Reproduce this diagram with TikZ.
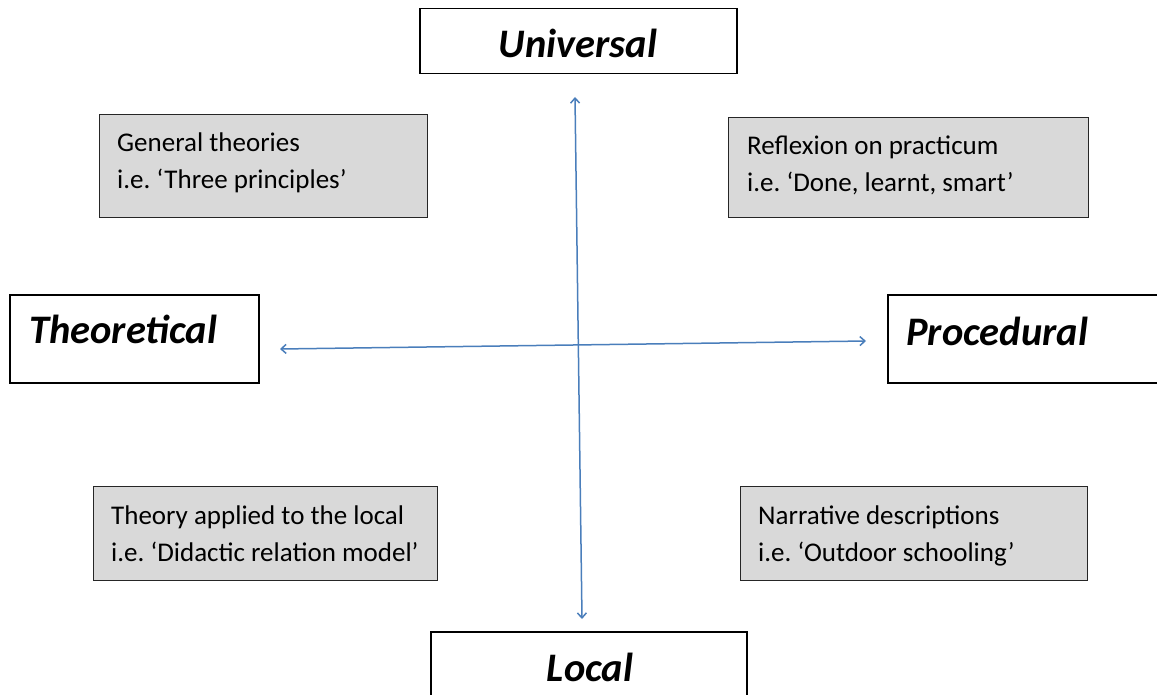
\documentclass[tikz,border=0pt]{standalone}
\usepackage{fontspec}
\setmainfont{Carlito}
\usetikzlibrary{arrows.meta}
\definecolor{axisblue}{HTML}{4A7EBB}
\definecolor{boxgray}{HTML}{D9D9D9}
\frenchspacing
\begin{document}
\begin{tikzpicture}[x=1bp,y=-1bp,
  headbox/.style={draw=black,line width=1.5bp,fill=white,anchor=north west,inner sep=0pt},
  graybox/.style={draw=black!85,line width=1.3bp,fill=boxgray,anchor=north west,inner sep=0pt},
  headtext/.style={font=\fontsize{40.5bp}{48bp}\selectfont\bfseries\itshape,inner sep=0pt},
  smalltext/.style={font=\fontsize{27bp}{32bp}\selectfont,inner sep=0pt,anchor=base west},
  axis/.style={draw=axisblue,line width=1.5bp,{Straight Barb[length=5bp,width=9bp]}-{Straight Barb[length=5bp,width=9bp]}}
]
\useasboundingbox (0,0) rectangle (1157,695);
% heading boxes
\node[headbox,minimum width=317bp,minimum height=65bp] (U) at (419,8) {};
\node[headtext,anchor=base] (Ut) at (578,58) {Universal};
\node[headbox,minimum width=249bp,minimum height=88bp] (T) at (9,294) {};
\node[headtext,anchor=base west] (Tt) at (29,343) {Theoretical};
\node[headbox,minimum width=275bp,minimum height=88bp] (P) at (887,294) {};
\node[headtext,anchor=base west] (Pt) at (906,345) {Procedural};
\node[headbox,minimum width=316bp,minimum height=80bp] (L) at (430,631) {};
\node[headtext,anchor=base] (Lt) at (590,681) {Local};
% gray boxes
\node[graybox,minimum width=328bp,minimum height=103bp] (G) at (99,114) {};
\node[smalltext] (G1) at (117,152) {General theories};
\node[smalltext] (G2) at (117,189) {i.e. ‘Three principles’};
\node[graybox,minimum width=360bp,minimum height=100bp] (R) at (728,117) {};
\node[smalltext] (R1) at (747,155) {Reflexion on practicum};
\node[smalltext] (R2) at (747,192) {i.e. ‘Done, learnt, smart’};
\node[graybox,minimum width=344bp,minimum height=94bp] (A) at (93,486) {};
\node[smalltext] (A1) at (111,524) {Theory applied to the local};
\node[smalltext] (A2) at (111,561) {i.e. ‘Didactic relation model’};
\node[graybox,minimum width=347bp,minimum height=94bp] (N) at (740,486) {};
\node[smalltext] (N1) at (758,524) {Narrative descriptions};
\node[smalltext] (N2) at (758,561) {i.e. ‘Outdoor schooling’};
% axes
\coordinate (up) at (575,97);
\coordinate (down) at (582,619);
\coordinate (left) at (280,349);
\coordinate (right) at (866,341);
\draw[axis] (up) -- (down);
\draw[axis] (left) -- (right);
\end{tikzpicture}
\end{document}
